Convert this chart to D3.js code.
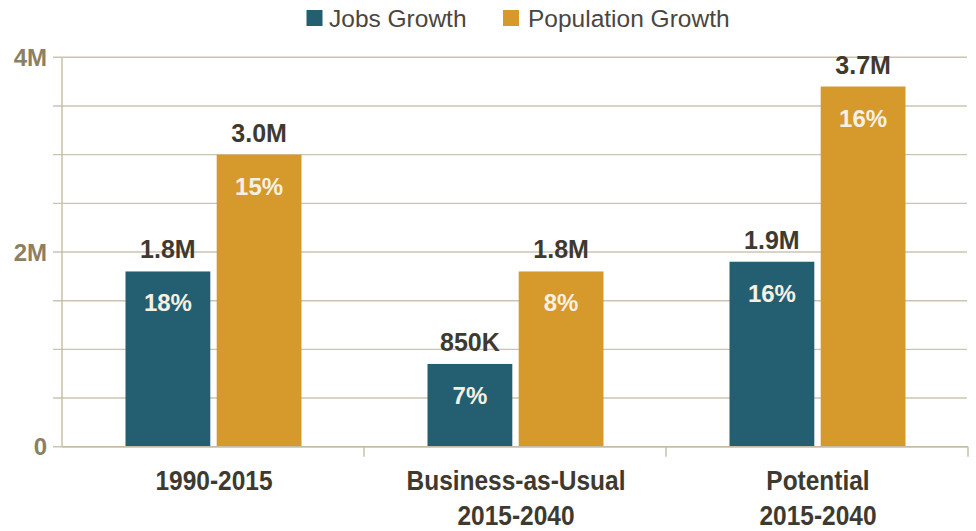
<!DOCTYPE html>
<html>
<head>
<meta charset="utf-8">
<script src="https://cdn.jsdelivr.net/npm/d3@7"></script>
<style>
html,body{margin:0;padding:0;background:#fff;}
svg{display:block;}
text{font-family:"Liberation Sans",Arial,sans-serif;}
</style>
</head>
<body>
<svg id="chart" width="976" height="531"></svg>
<script>
const categories = [["1990-2015"], ["Business-as-Usual", "2015-2040"], ["Potential", "2015-2040"]];
const categoryKeys = ["1990-2015", "Business-as-Usual 2015-2040", "Potential 2015-2040"];
const seriesNames = ["Jobs Growth", "Population Growth"];
const jobsValues = [1800000, 850000, 1900000];
const popValues = [3000000, 1800000, 3700000];
const jobsLabels = ["1.8M", "850K", "1.9M"];
const popLabels = ["3.0M", "1.8M", "3.7M"];
const jobsPct = ["18%", "7%", "16%"];
const popPct = ["15%", "8%", "16%"];
const yTickValues = [0, 500000, 1000000, 1500000, 2000000, 2500000, 3000000, 3500000, 4000000];
const yTickLabels = {0: "0", 2000000: "2M", 4000000: "4M"};
const colors = ["#235f71", "#d6992c"];

(function () {
const svg = d3.select("#chart");
const mLeft = 62, mRight = 968, mTop = 57.3, mBottom = 446.7;

const y = d3.scaleLinear().domain([0, 4000000]).range([mBottom, mTop]);
const x0 = d3.scaleBand().domain(categoryKeys).range([mLeft, mRight]).padding(0);
const x1 = d3.scaleBand().domain(seriesNames).range([63.5, 239.5]).paddingInner(0.07);

// gridlines
svg.append("g").selectAll("line").data(yTickValues).join("line")
  .attr("x1", 53).attr("x2", 967)
  .attr("y1", d => y(d)).attr("y2", d => y(d))
  .attr("stroke", "#cbc4b0").attr("stroke-width", 1.4);

// y axis line
svg.append("line").attr("x1", mLeft).attr("x2", mLeft).attr("y1", mTop).attr("y2", mBottom)
  .attr("stroke", "#c4bca6").attr("stroke-width", 1.4);

// y tick labels
svg.append("g").selectAll("text").data(yTickValues.filter(d => yTickLabels[d] !== undefined)).join("text")
  .attr("x", 47).attr("y", d => y(d)).attr("dy", "0.36em")
  .attr("text-anchor", "end")
  .attr("font-size", 24).attr("font-weight", "bold").attr("fill", "#8b8061")
  .text(d => yTickLabels[d]);

// x axis ticks at band boundaries
const boundaries = categoryKeys.map(k => x0(k) + x0.bandwidth());
svg.append("g").selectAll("line").data(boundaries).join("line")
  .attr("x1", d => d).attr("x2", d => d).attr("y1", mBottom).attr("y2", mBottom + 10)
  .attr("stroke", "#c4bca6").attr("stroke-width", 1.4);

// bars
const data = categoryKeys.map((k, i) => ({
  key: k,
  series: [
    {name: seriesNames[0], value: jobsValues[i], label: jobsLabels[i], pct: jobsPct[i]},
    {name: seriesNames[1], value: popValues[i], label: popLabels[i], pct: popPct[i]}
  ]
}));

const groups = svg.append("g").selectAll("g").data(data).join("g")
  .attr("transform", d => `translate(${x0(d.key)},0)`);

groups.selectAll("rect").data(d => d.series).join("rect")
  .attr("x", d => x1(d.name))
  .attr("width", x1.bandwidth())
  .attr("y", d => y(d.value))
  .attr("height", d => y(0) - y(d.value))
  .attr("fill", (d, i) => colors[i]);

groups.selectAll("text.val").data(d => d.series).join("text")
  .attr("class", "val")
  .attr("x", d => x1(d.name) + x1.bandwidth() / 2)
  .attr("y", d => y(d.value) - 13)
  .attr("text-anchor", "middle")
  .attr("font-size", 25).attr("font-weight", "bold").attr("fill", "#3e3a2f")
  .text(d => d.label);

groups.selectAll("text.pct").data(d => d.series).join("text")
  .attr("class", "pct")
  .attr("x", d => x1(d.name) + x1.bandwidth() / 2)
  .attr("y", d => y(d.value) + 40)
  .attr("text-anchor", "middle")
  .attr("font-size", 24).attr("font-weight", "bold").attr("fill", "#f5f1e2")
  .text(d => d.pct);

// x axis line
svg.append("line").attr("x1", mLeft).attr("x2", mRight).attr("y1", mBottom).attr("y2", mBottom)
  .attr("stroke", "#c4bca6").attr("stroke-width", 1.4);

// category labels (condensed look via horizontal scale)
categoryKeys.forEach((k, i) => {
  const cx = x0(k) + x0.bandwidth() / 2 + 1;
  categories[i].forEach((line, j) => {
    svg.append("text")
      .attr("transform", `translate(${cx},${490 + j * 35}) scale(0.89,1)`)
      .attr("text-anchor", "middle")
      .attr("font-size", 27.5).attr("font-weight", "bold").attr("fill", "#3e3a2f")
      .text(line);
  });
});

// legend
const legendItems = [
  {name: seriesNames[0], sx: 306.5, tx: 329},
  {name: seriesNames[1], sx: 503, tx: 528}
];
const lg = svg.append("g");
lg.selectAll("rect").data(legendItems).join("rect")
  .attr("x", d => d.sx).attr("y", 10).attr("width", 16).attr("height", 16)
  .attr("fill", (d, i) => colors[i]);
lg.selectAll("text").data(legendItems).join("text")
  .attr("x", d => d.tx).attr("y", 27)
  .attr("font-size", 24.5).attr("fill", "#4a463e")
  .text(d => d.name);
})();
</script>
</body>
</html>
